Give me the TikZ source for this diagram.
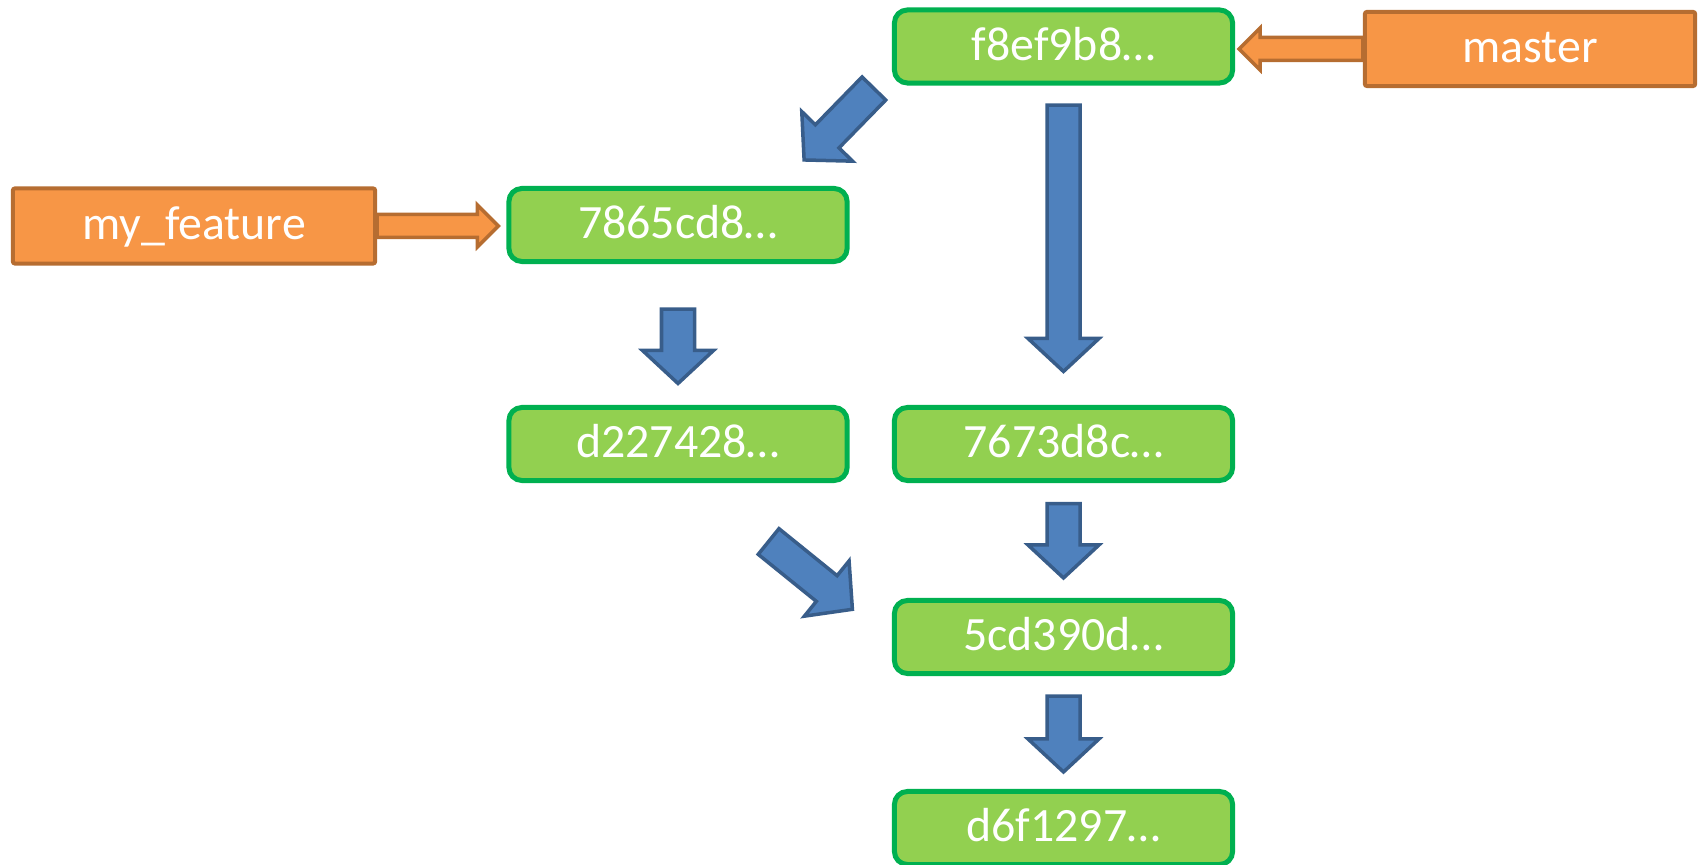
\documentclass[tikz,border=0pt]{standalone}
\usepackage{fontspec}
\setmainfont{Carlito}
\usetikzlibrary{calc}

\definecolor{commitfill}{HTML}{92D050}
\definecolor{commitline}{HTML}{00B050}
\definecolor{branchfill}{HTML}{F79646}
\definecolor{branchline}{HTML}{B66D31}
\definecolor{parentfill}{HTML}{4F81BD}
\definecolor{parentline}{HTML}{385D8A}

\tikzset{
  commit/.style={draw=commitline,fill=commitfill,line width=0.05cm,rounded corners=0.13cm,
    minimum width=3.38cm,minimum height=0.73cm,inner sep=0pt,text=white,
    font=\fontsize{13.6}{16}\selectfont,text height=0.9em,text depth=0.12em},
  branch/.style={draw=branchline,fill=branchfill,line width=0.04cm,rounded corners=0.02cm,
    minimum height=0.74cm,inner sep=0pt,text=white,
    font=\fontsize{13.6}{16}\selectfont,text height=0.9em,text depth=0.12em},
  parentarrow/.style={draw=parentline,fill=parentfill,line width=0.035cm,line join=miter},
  refarrow/.style={draw=branchline,fill=branchfill,line width=0.035cm,line join=miter}
}

% fat arrow: style, tail, tip, shaft half width, head half width, head length
\newcommand{\fatarrow}[6]{%
  \path ($(#3)!#6!(#2)$) coordinate (neck);
  \draw[#1] ($(#2)!#4!90:(#3)$) -- ($(neck)!#4!90:(#3)$) -- ($(neck)!#5!90:(#3)$)
    -- (#3) -- ($(neck)!#5!-90:(#3)$) -- ($(neck)!#4!-90:(#3)$)
    -- ($(#2)!#4!-90:(#3)$) -- cycle;
}

\begin{document}
\begin{tikzpicture}[x=0.01cm,y=-0.01cm]
  \useasboundingbox (0,0) rectangle (1700,865);

  % commits
  \node[commit] (f8ef9b8) at (1063.5,46.5) {f8ef9b8…};
  \node[commit] (7865cd8) at (678,225) {7865cd8…};
  \node[commit] (d227428) at (678,444) {d227428…};
  \node[commit] (7673d8c) at (1063.5,444) {7673d8c…};
  \node[commit] (5cd390d) at (1063.5,637) {5cd390d…};
  \node[commit] (d6f1297) at (1063.5,828) {d6f1297…};

  % branches
  \node[branch,minimum width=3.30cm] (master) at (1530,49) {master};
  \node[branch,minimum width=3.62cm,minimum height=0.75cm] (feature) at (194,226) {my\_feature};

  % parent links
  \coordinate (t1) at ($(f8ef9b8.south west)+(-18,3)$);
  \coordinate (h1) at ($(7865cd8.north east)+(-45.5,-26)$);
  \coordinate (t2) at ($(f8ef9b8.south)+(0,19.5)$);
  \coordinate (h2) at ($(7673d8c.north)+(0,-33.5)$);
  \coordinate (t3) at ($(7865cd8.south)+(0,45)$);
  \coordinate (h3) at ($(d227428.north)+(0,-21.5)$);
  \coordinate (t4) at ($(7673d8c.south)+(0,20.5)$);
  \coordinate (h4) at ($(5cd390d.north)+(0,-20)$);
  \coordinate (t5) at ($(5cd390d.south)+(0,20)$);
  \coordinate (h5) at ($(d6f1297.north)+(0,-17)$);
  \coordinate (t6) at ($(d227428.south east)+(-81,58.5)$);
  \coordinate (h6) at ($(5cd390d.west)+(-39.5,-27.7)$);
  \foreach \i in {1,...,6}
    \fatarrow{parentarrow}{t\i}{h\i}{0.165cm}{0.355cm}{0.33cm};

  % branch refs
  \coordinate (hm0) at ($(f8ef9b8.east)+(4,0)$);
  \coordinate (hm) at (hm0 |- master.west);
  \coordinate (hf0) at ($(7865cd8.west)+(-8,0)$);
  \coordinate (hf) at (hf0 |- feature.east);
  \fatarrow{refarrow}{master.west}{hm}{0.115cm}{0.21cm}{0.21cm};
  \fatarrow{refarrow}{feature.east}{hf}{0.115cm}{0.21cm}{0.21cm};
\end{tikzpicture}
\end{document}
